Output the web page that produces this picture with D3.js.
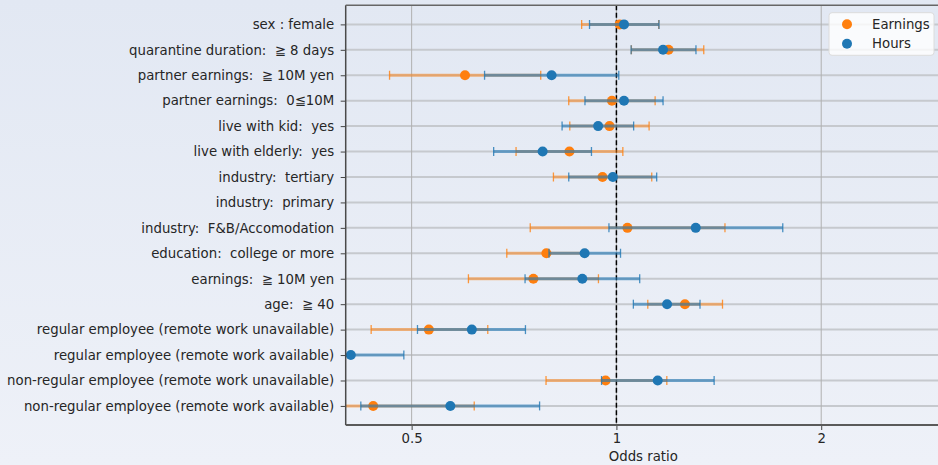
<!DOCTYPE html>
<html>
<head>
<meta charset="utf-8">
<script src="https://cdn.jsdelivr.net/npm/d3@7"></script>
<style>
  html, body { margin: 0; padding: 0; }
  body { width: 938px; height: 465px; overflow: hidden; }
  svg { display: block; font-family: "DejaVu Sans", sans-serif; }
</style>
</head>
<body>
<svg width="938" height="465"></svg>
<script>
// rows, top to bottom
var categories = [
  "sex : female",
  "quarantine duration:  \u2267 8 days",
  "partner earnings:  \u2267 10M yen",
  "partner earnings:  0\u226610M",
  "live with kid:  yes",
  "live with elderly:  yes",
  "industry:  tertiary",
  "industry:  primary",
  "industry:  F&B/Accomodation",
  "education:  college or more",
  "earnings:  \u2267 10M yen",
  "age:  \u2267 40",
  "regular employee (remote work unavailable)",
  "regular employee (remote work available)",
  "non-regular employee (remote work unavailable)",
  "non-regular employee (remote work available)"
];

// Earnings odds ratio + 95% CI
var earnOR = [1.011, 1.193, 0.599, 0.985, 0.977, 0.853, 0.954, null, 1.038, 0.789, 0.755, 1.261, 0.530, null, 0.964, 0.439];
var earnLo = [0.889, 1.052, 0.464, 0.851, 0.854, 0.712, 0.808, null, 0.747, 0.690, 0.606, 1.112, 0.436, null, 0.788, 0.37];
var earnHi = [1.154, 1.344, 0.774, 1.140, 1.117, 1.022, 1.127, null, 1.444, 0.901, 0.941, 1.432, 0.647, null, 1.186, 0.618];

// Hours odds ratio + 95% CI
var hourOR = [1.026, 1.171, 0.803, 1.026, 0.940, 0.779, 0.988, null, 1.308, 0.898, 0.891, 1.187, 0.613, 0.407, 1.150, 0.570];
var hourLo = [0.913, 1.051, 0.640, 0.899, 0.832, 0.660, 0.851, null, 0.975, 0.796, 0.734, 1.059, 0.510, 0.34, 0.951, 0.421];
var hourHi = [1.155, 1.309, 1.008, 1.171, 1.060, 0.919, 1.146, null, 1.756, 1.014, 1.082, 1.327, 0.735, 0.487, 1.392, 0.771];

var xTicks = [0.5, 1, 2];

var svg = d3.select("svg"),
    pLeft = 345.7, pRight = 941, pTop = 5.3, pBottom = 425;

var defs = svg.append("defs");
var grad = defs.append("linearGradient").attr("id", "bg")
  .attr("x1", 0).attr("y1", 0).attr("x2", 0).attr("y2", 1);
grad.append("stop").attr("offset", "0%").attr("stop-color", "#e2e8f3");
grad.append("stop").attr("offset", "100%").attr("stop-color", "#eef1f8");
defs.append("clipPath").attr("id", "clip").append("rect")
  .attr("x", pLeft).attr("y", pTop).attr("width", pRight - pLeft).attr("height", pBottom - pTop);

svg.append("rect").attr("width", 938).attr("height", 465).attr("fill", "url(#bg)");

var x = d3.scaleLog().domain([0.4, 3.0]).range([pLeft, pRight]);
var y = d3.scalePoint().domain(categories).range([pTop, pBottom]).padding(0.75);

// grid
var grid = svg.append("g");
grid.selectAll(".hg").data(categories).enter().append("line")
  .attr("x1", pLeft).attr("x2", pRight)
  .attr("y1", function(d) { return y(d); }).attr("y2", function(d) { return y(d); })
  .attr("stroke", "#c6c9ce").attr("stroke-width", 2);
grid.selectAll(".vg").data(xTicks).enter().append("line")
  .attr("x1", function(d) { return x(d); }).attr("x2", function(d) { return x(d); })
  .attr("y1", pTop).attr("y2", pBottom)
  .attr("stroke", "#b0b0b0").attr("stroke-width", 1);

// reference line at OR = 1
svg.append("line")
  .attr("x1", x(1)).attr("x2", x(1)).attr("y1", pTop).attr("y2", pBottom)
  .attr("stroke", "#000").attr("stroke-width", 1.5).attr("stroke-dasharray", "5,2.5");

var plot = svg.append("g").attr("clip-path", "url(#clip)");

var series = [
  { name: "Earnings", color: "#ff7f0e", alpha: 0.5, or: earnOR, lo: earnLo, hi: earnHi },
  { name: "Hours", color: "#1f77b4", alpha: 0.6, or: hourOR, lo: hourLo, hi: hourHi }
];

series.forEach(function(s) {
  var rows = categories.map(function(c, i) {
    return { cat: c, or: s.or[i], lo: s.lo[i], hi: s.hi[i] };
  }).filter(function(d) { return d.or != null; });

  var g = plot.append("g");
  g.selectAll(".bar").data(rows).enter().append("line")
    .attr("x1", function(d) { return x(d.lo); }).attr("x2", function(d) { return x(d.hi); })
    .attr("y1", function(d) { return y(d.cat); }).attr("y2", function(d) { return y(d.cat); })
    .attr("stroke", s.color).attr("stroke-width", 3).attr("stroke-opacity", s.alpha);

  ["lo", "hi"].forEach(function(k) {
    g.selectAll(".cap-" + k).data(rows).enter().append("line")
      .attr("x1", function(d) { return x(d[k]); }).attr("x2", function(d) { return x(d[k]); })
      .attr("y1", function(d) { return y(d.cat) - 4.5; }).attr("y2", function(d) { return y(d.cat) + 4.5; })
      .attr("stroke", s.color).attr("stroke-width", 1.3).attr("stroke-opacity", 0.8);
  });

  g.selectAll(".dot").data(rows).enter().append("circle")
    .attr("cx", function(d) { return x(d.or); })
    .attr("cy", function(d) { return y(d.cat); })
    .attr("r", 5)
    .attr("fill", s.color);
});

// axes
var xAxis = svg.append("g")
  .attr("transform", "translate(0," + pBottom + ")")
  .call(d3.axisBottom(x).tickValues(xTicks).tickFormat(d3.format("")).tickSize(5).tickPadding(4));
var yAxis = svg.append("g")
  .attr("transform", "translate(" + pLeft + ",0)")
  .call(d3.axisLeft(y).tickSize(5).tickPadding(6.5));

[xAxis, yAxis].forEach(function(a) {
  a.select(".domain").remove();
  a.selectAll("text").attr("font-size", "13.3px").attr("fill", "#262626")
    .attr("font-family", "DejaVu Sans, sans-serif").style("white-space", "pre");
  a.selectAll(".tick line").attr("stroke", "#444").attr("stroke-width", 1);
});

// spines
svg.append("line").attr("x1", pLeft).attr("x2", pLeft).attr("y1", pTop).attr("y2", pBottom)
  .attr("stroke", "#4a4a4a").attr("stroke-width", 1.5);
svg.append("line").attr("x1", pLeft).attr("x2", pRight).attr("y1", pBottom).attr("y2", pBottom)
  .attr("stroke", "#5a5a5a").attr("stroke-width", 2);
svg.append("line").attr("x1", pLeft).attr("x2", pRight).attr("y1", pTop).attr("y2", pTop)
  .attr("stroke", "#666").attr("stroke-width", 1.5);

svg.append("text")
  .attr("x", (pLeft + pRight) / 2).attr("y", 461)
  .attr("text-anchor", "middle").attr("font-size", "13.3px").attr("fill", "#262626")
  .text("Odds ratio");

// legend
var legend = svg.append("g").attr("transform", "translate(829,12.7)");
legend.append("rect").attr("width", 105).attr("height", 42.6).attr("rx", 3)
  .attr("fill", "#fff").attr("fill-opacity", 0.8).attr("stroke", "#dcdcdc");
series.forEach(function(s, i) {
  legend.append("circle").attr("cx", 18).attr("cy", 11.5 + i * 19.5).attr("r", 5).attr("fill", s.color);
  legend.append("text").attr("x", 43).attr("y", 16 + i * 19.5)
    .attr("font-size", "13.3px").attr("fill", "#262626").text(s.name);
});
</script>
</body>
</html>
